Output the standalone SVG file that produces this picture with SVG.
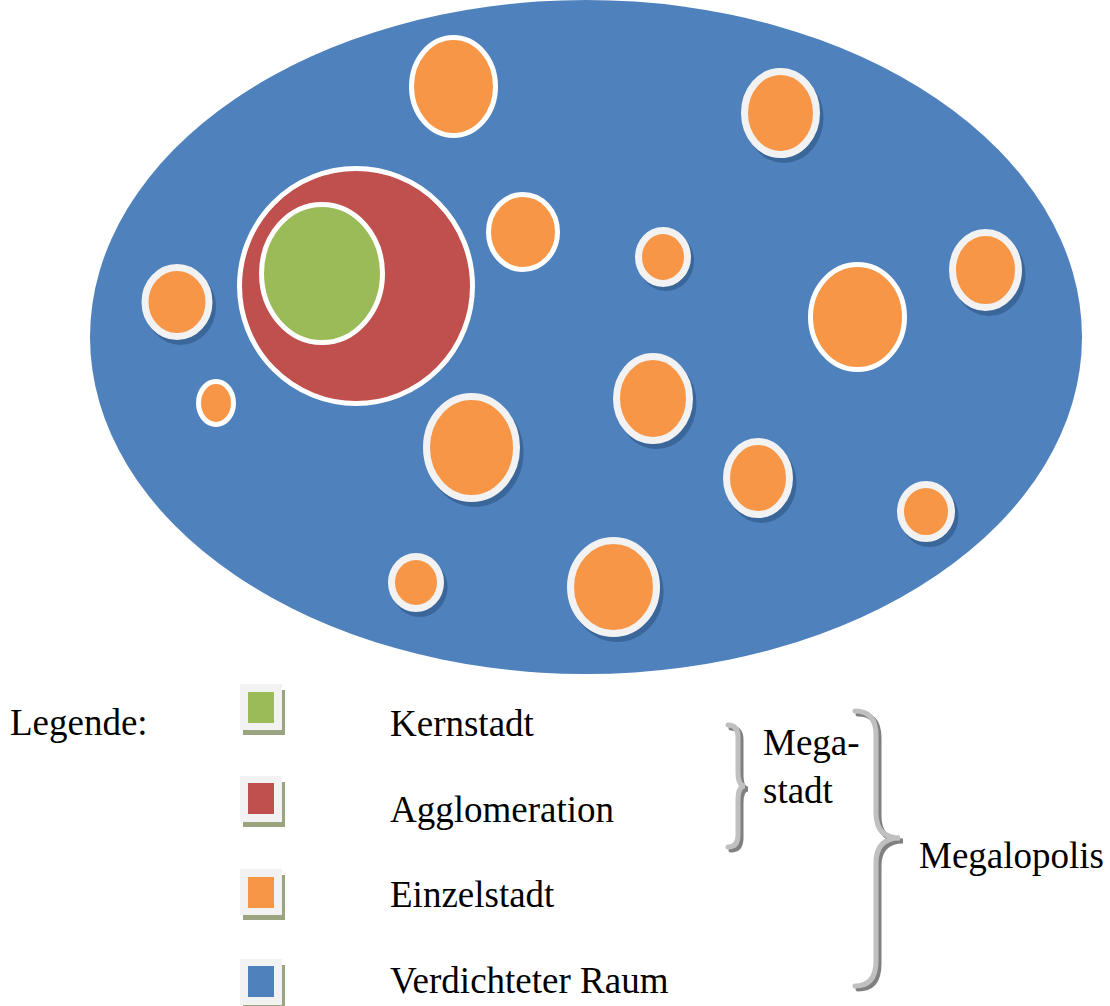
<svg xmlns="http://www.w3.org/2000/svg" width="1110" height="1006" viewBox="0 0 1110 1006">
<style>
.bg{fill:#4F81BD}
.sh{fill:#3A6699}
.og{fill:#F79646;stroke:#F2F2F2;stroke-width:7}
.ow{fill:#F79646;stroke:#FFFFFF;stroke-width:5}
.txt{font-family:"Liberation Serif","Times New Roman",serif;font-size:37px;fill:#000}
.lbox{fill:#F2F2F2}
.lsh{fill:#9AA47E}
.brl{fill:none;stroke:#C0C0C0;stroke-width:5;stroke-linecap:round}
.brd{fill:none;stroke:#808080;stroke-width:5;stroke-linecap:round}
</style>
<rect width="1110" height="1006" fill="#FFFFFF"/>
<g id="verdichteter-raum">
<ellipse class="bg" cx="586" cy="337" rx="496" ry="337"/>
</g>
<g id="agglomeration">
<ellipse cx="356" cy="286" rx="116.5" ry="117.5" fill="#C0504D" stroke="#FFFFFF" stroke-width="5"/>
</g>
<g id="kernstadt">
<ellipse cx="322" cy="273.5" rx="60.5" ry="69" fill="#9BBB59" stroke="#FFFFFF" stroke-width="5"/>
</g>
<g id="einzelstaedte">
<g id="e1"><ellipse class="ow" cx="453.5" cy="86.5" rx="42" ry="49"/></g>
<g id="e2"><ellipse class="sh" cx="784" cy="118" rx="39.5" ry="45"/><ellipse class="og" cx="780.5" cy="113" rx="36" ry="41.5"/></g>
<g id="e3"><ellipse class="ow" cx="523" cy="232" rx="34.5" ry="37.5"/></g>
<g id="e4"><ellipse class="sh" cx="666" cy="261" rx="28" ry="30"/><ellipse class="og" cx="663" cy="257" rx="24.5" ry="26.5"/></g>
<g id="e5"><ellipse class="sh" cx="989" cy="275" rx="36.5" ry="41"/><ellipse class="og" cx="985.5" cy="270" rx="33" ry="37.5"/></g>
<g id="e6"><ellipse class="ow" cx="857.5" cy="317" rx="47" ry="52.5"/></g>
<g id="e7"><ellipse class="sh" cx="180.5" cy="307" rx="35.5" ry="38"/><ellipse class="og" cx="177" cy="302" rx="32" ry="34.5"/></g>
<g id="e8"><ellipse class="ow" cx="216" cy="403" rx="17.5" ry="21.5"/></g>
<g id="e9"><ellipse class="sh" cx="656.5" cy="403.5" rx="40" ry="45.5"/><ellipse class="og" cx="653" cy="398.5" rx="36.5" ry="42"/></g>
<g id="e10"><ellipse class="sh" cx="475" cy="452.5" rx="48.5" ry="54.5"/><ellipse class="og" cx="471.5" cy="447.5" rx="45" ry="51"/></g>
<g id="e11"><ellipse class="sh" cx="761.5" cy="483" rx="35" ry="40"/><ellipse class="og" cx="758" cy="478" rx="31.5" ry="36.5"/></g>
<g id="e12"><ellipse class="sh" cx="929.5" cy="516.5" rx="29" ry="30.5"/><ellipse class="og" cx="926" cy="511.5" rx="25.5" ry="27"/></g>
<g id="e13"><ellipse class="sh" cx="419.5" cy="587.5" rx="28" ry="29.5"/><ellipse class="og" cx="416" cy="582.5" rx="24.5" ry="26"/></g>
<g id="e14"><ellipse class="sh" cx="617" cy="592" rx="46.5" ry="50"/><ellipse class="og" cx="613.5" cy="587" rx="43" ry="46.5"/></g>
</g>
<g id="legend">
<text class="txt" x="10" y="735">Legende:</text>
<g id="leg-kernstadt">
<rect class="lsh" x="243" y="690" width="42" height="45"/>
<rect class="lbox" x="240" y="684" width="42" height="46"/>
<rect x="248" y="692" width="26" height="31" fill="#9BBB59"/>
<text class="txt" x="390" y="736">Kernstadt</text>
</g>
<g id="leg-agglomeration">
<rect class="lsh" x="243" y="782" width="42" height="45"/>
<rect class="lbox" x="240" y="776" width="42" height="46"/>
<rect x="248" y="783" width="26" height="31" fill="#C0504D"/>
<text class="txt" x="390" y="822">Agglomeration</text>
</g>
<g id="leg-einzelstadt">
<rect class="lsh" x="243" y="875" width="42" height="45"/>
<rect class="lbox" x="240" y="869" width="42" height="46"/>
<rect x="248" y="877" width="26" height="31" fill="#F79646"/>
<text class="txt" x="390" y="907">Einzelstadt</text>
</g>
<g id="leg-raum">
<rect class="lsh" x="243" y="965" width="42" height="45"/>
<rect class="lbox" x="240" y="959" width="42" height="46"/>
<rect x="248" y="966" width="26" height="31" fill="#4F81BD"/>
<text class="txt" x="390" y="993">Verdichteter Raum</text>
</g>
</g>
<g id="connectors">
<g id="brace-megastadt">
<path class="brd" d="M731,728 Q741,728 741,740 L741,775 Q741,789 748,789 Q741,789 741,803 L741,838 Q741,850 731,850"/>
<path class="brl" d="M728,725 Q738,725 738,737 L738,772 Q738,786 745,786 Q738,786 738,800 L738,835 Q738,847 728,847"/>
</g>
<g id="brace-megalopolis">
<path class="brd" d="M858,714 Q879,714 879,738 L879,816 Q879,841 903,841 Q879,841 879,866 L879,964 Q879,989 858,989"/>
<path class="brl" d="M855,711 Q876,711 876,735 L876,813 Q876,838 900,838 Q876,838 876,863 L876,961 Q876,986 855,986"/>
</g>
</g>
<g id="labels">
<text class="txt" x="763" y="755">Mega-</text>
<text class="txt" x="763" y="803">stadt</text>
<text class="txt" x="919" y="868">Megalopolis</text>
</g>
</svg>
